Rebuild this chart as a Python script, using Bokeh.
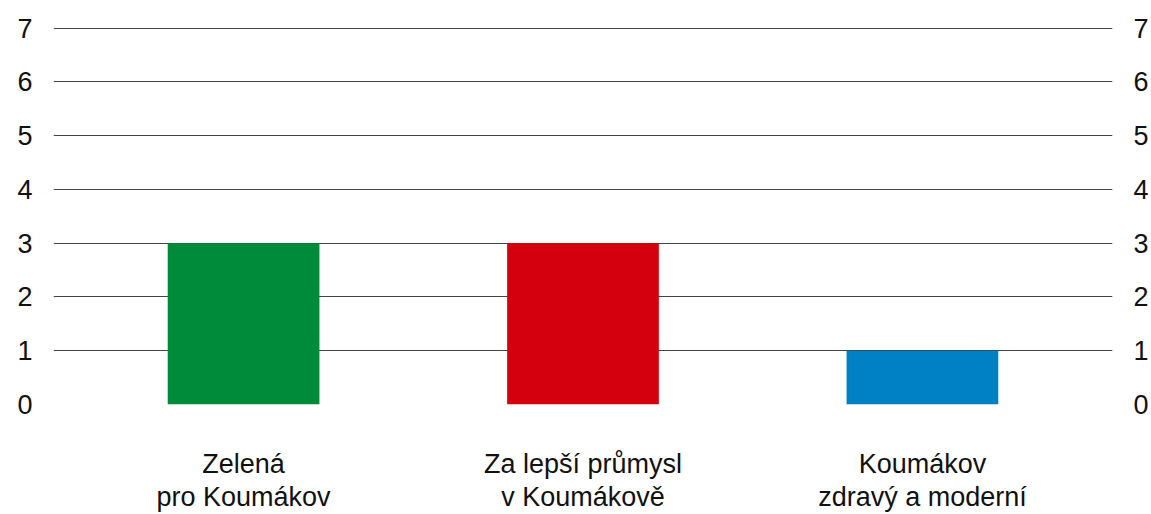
from bokeh.plotting import figure
from bokeh.models import Range1d, LinearAxis, FixedTicker
from bokeh.embed import file_html
from bokeh.resources import INLINE

categories = ["Zelená\npro Koumákov", "Za lepší průmysl\nv Koumákově", "Koumákov\nzdravý a moderní"]
values = [3, 3, 1]
colors = ["#008B3A", "#D4000D", "#0081C6"]
y_ticks = [0, 1, 2, 3, 4, 5, 6, 7]

FONT = "Liberation Sans"
FS = "27px"

xs = list(range(len(categories)))

p = figure(width=1151, height=514, output_backend="svg", toolbar_location=None,
           x_range=Range1d(-0.56, 2.56), y_range=Range1d(0, 7.01),
           min_border_left=53, min_border_right=39, min_border_top=27, min_border_bottom=109)
p.outline_line_color = None
p.background_fill_color = "white"
p.border_fill_color = "white"

p.vbar(x=xs, top=values, width=0.447, color=colors, line_color=None)

p.xgrid.visible = False
p.ygrid.ticker = FixedTicker(ticks=y_ticks)
p.ygrid.grid_line_color = "#444444"
p.ygrid.grid_line_width = 1

right = LinearAxis()
p.add_layout(right, "right")

for ax in [p.yaxis[0], right]:
    ax.ticker = FixedTicker(ticks=y_ticks)
    ax.axis_line_color = None
    ax.major_tick_line_color = None
    ax.minor_tick_line_color = None
    ax.major_label_text_font = FONT
    ax.major_label_text_font_size = FS
    ax.major_label_text_color = "#111111"
    ax.major_label_standoff = 15

xa = p.xaxis[0]
xa.ticker = FixedTicker(ticks=xs)
xa.major_label_overrides = {i: c for i, c in zip(xs, categories)}
xa.axis_line_color = None
xa.major_tick_line_color = None
xa.minor_tick_line_color = None
xa.major_label_text_font = FONT
xa.major_label_text_font_size = FS
xa.major_label_text_color = "#111111"
xa.major_label_text_line_height = 1.1
xa.major_label_standoff = 38

open("out.html", "w").write(file_html(p, INLINE))
